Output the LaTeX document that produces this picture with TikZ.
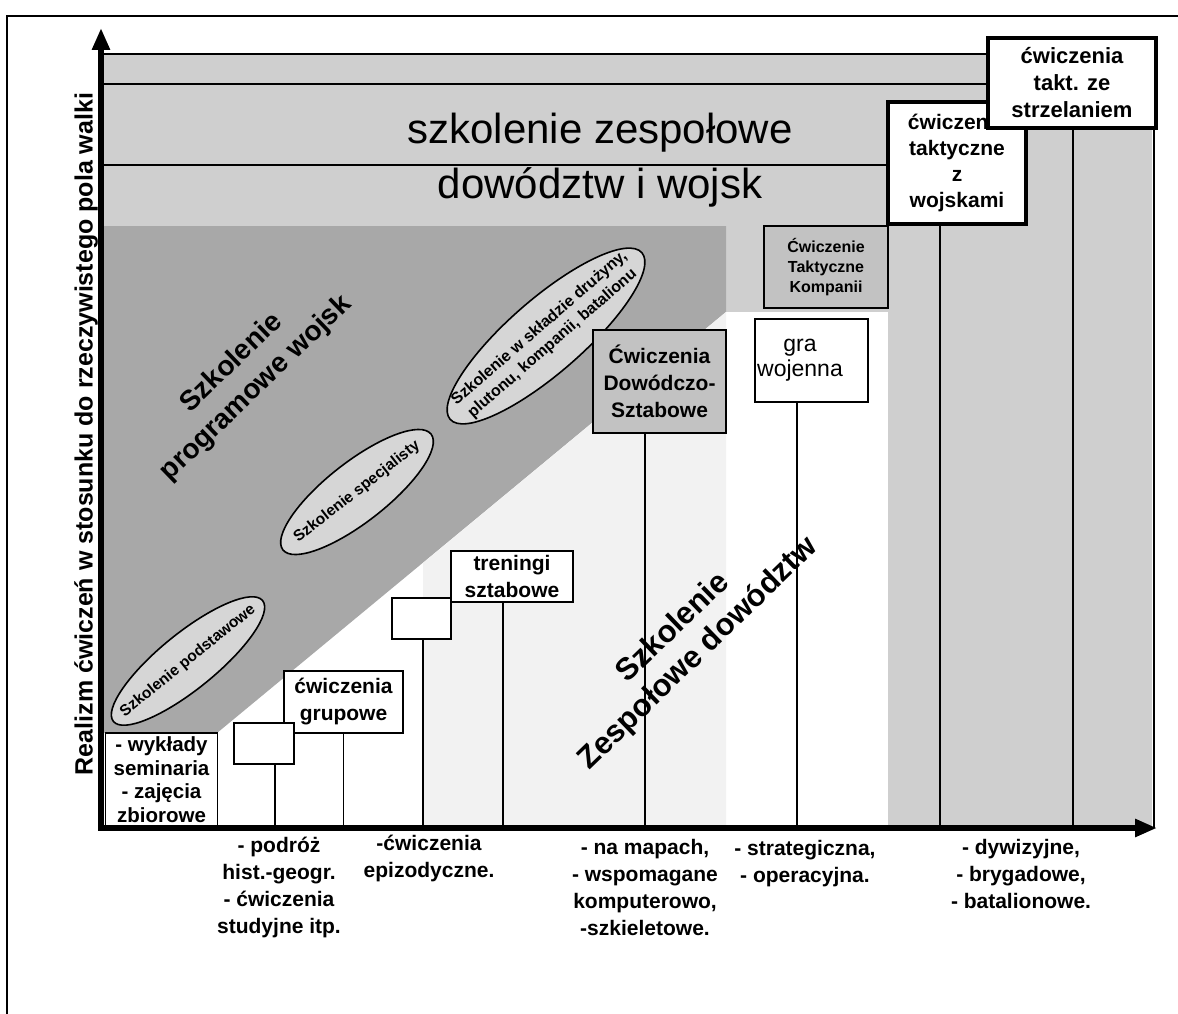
\documentclass[tikz,border=0pt]{standalone}
\usepackage{fontspec}
\setmainfont{Liberation Sans}
\usepackage{tikz}
\usetikzlibrary{arrows.meta,shapes.geometric}
\definecolor{pasek}{gray}{0.81}
\definecolor{ciemny}{gray}{0.66}
\definecolor{jasny}{gray}{0.95}
\definecolor{owalszary}{gray}{0.84}
\definecolor{ramka}{gray}{0.76}

\begin{document}
\begin{tikzpicture}[x=1pt,y=-1pt,inner sep=0pt,
  box/.style={draw,fill=white,line width=1.6pt,align=center,font=\bfseries\fontsize{21}{27}\selectfont},
  gruba/.style={box,line width=4pt},
  owal/.style={ellipse,draw,fill=owalszary,line width=1.6pt},
  napis/.style={font=\bfseries\fontsize{15.5}{19}\selectfont,align=center},
  opis/.style={font=\bfseries\fontsize{21}{27}\selectfont,align=center},
  pion/.style={line width=1.6pt},
  os/.style={line width=6pt,line cap=rect,-{Triangle[length=22pt,width=17pt]}}]
\useasboundingbox (0,0) rectangle (1178,1014);
\fill[pasek] (101,54) rectangle (1152,226);
\fill[pasek] (726,226) rectangle (888,312);
\fill[pasek] (888,226) rectangle (1152,828);
\fill[ciemny] (101,226) -- (726,226) -- (726,312) -- (217,733) -- (101,733) -- cycle;
\fill[jasny] (423,563) -- (726,312) -- (726,828) -- (423,828) -- cycle;
\draw[line width=2.5pt] (101,54) -- (988,54);
\draw[line width=2.5pt] (101,84) -- (988,84);
\draw[line width=2.5pt] (101,165) -- (888,165);
\draw[line width=2pt] (7,1014) -- (7,16) -- (1178,16);
\coordinate (o) at (101,828);
\coordinate (ygora) at (101,28);
\coordinate (xkoniec) at (1157,828);
% napisy w tle
\draw (600,143) node[anchor=base,font=\fontsize{42}{50}\selectfont](zesp1) {szkolenie zespołowe};
\draw (600,198) node[anchor=base,font=\fontsize{42}{50}\selectfont](zesp2) {dowództw i wojsk};
\draw (244,376) node[font=\bfseries\fontsize{28}{35}\selectfont,align=center,rotate=44](progr) {Szkolenie\\programowe wojsk};
\draw (686,641) node[font=\bfseries\fontsize{31}{36}\selectfont,align=center,rotate=44](dowodz) {Szkolenie\\Zespołowe dowództw};
% owale
\draw (188,661) node[owal,minimum width=192,minimum height=56,rotate=39](podst) {};
\draw (podst.center) node[napis,rotate=39](podsttekst) {Szkolenie podstawowe};
\draw (357,492) node[owal,minimum width=188,minimum height=60,rotate=38](spec) {};
\draw (spec.center) node[napis,rotate=38](spectekst) {Szkolenie specjalisty};
\draw (546,336) node[owal,minimum width=254,minimum height=74,rotate=41](sklad) {};
\draw (sklad.center) node[napis,font=\bfseries\fontsize{16}{20}\selectfont,rotate=41](skladtekst) {Szkolenie w składzie drużyny,\\plutonu, kompanii, batalionu};
% prostokaty
\draw (161.5,779.5) node[box,minimum width=112,minimum height=93,font=\bfseries\fontsize{20.5}{23.5}\selectfont](wyklady) {- wykłady\\seminaria\\- zajęcia\\zbiorowe};
\draw (343.5,702) node[box,minimum width=119,minimum height=62](grupowe) {ćwiczenia\\grupowe};
\draw (264,743.5) node[box,minimum width=60,minimum height=41](pusty1) {};
\draw (421.5,618.5) node[box,minimum width=59,minimum height=41](pusty2) {};
\draw (512,576.5) node[box,minimum width=122,minimum height=51](treningi) {treningi\\sztabowe};
\draw (659.5,381.5) node[box,fill=ramka,minimum width=133,minimum height=103](dowodcze) {Ćwiczenia\\Dowódczo-\\Sztabowe};
\draw (811.5,360.5) node[box,minimum width=113,minimum height=83](gra) {};
\draw (800,360.5) node[font=\fontsize{23}{25}\selectfont,align=center](gratekst) {gra\\wojenna};
\draw (826,267) node[box,fill=ramka,minimum width=124,minimum height=82,font=\bfseries\fontsize{16}{20}\selectfont](kompanii) {Ćwiczenie\\Taktyczne\\Kompanii};
\draw (957,163) node[gruba,minimum width=138,minimum height=122,font=\bfseries\fontsize{21}{26}\selectfont](wojskami) {ćwiczenia\\taktyczne\\z\\wojskami};
\draw (1072,83) node[gruba,minimum width=168,minimum height=90,font=\bfseries\fontsize{22}{27}\selectfont](strzelanie) {ćwiczenia\\takt. ze\\strzelaniem};
% linie pionowe
\draw[pion] ([xshift=11pt]pusty1.south) -- ([xshift=11pt]pusty1.south |- o);
\draw[pion] (grupowe.south) -- (grupowe.south |- o);
\draw[pion] ([xshift=1.5pt]pusty2.south) -- ([xshift=1.5pt]pusty2.south |- o);
\draw[pion] ([xshift=-9pt]treningi.south) -- ([xshift=-9pt]treningi.south |- o);
\draw[pion] ([xshift=-14.5pt]dowodcze.south) -- ([xshift=-14.5pt]dowodcze.south |- o);
\draw[pion] ([xshift=-14.5pt]gra.south) -- ([xshift=-14.5pt]gra.south |- o);
\draw[pion] ([xshift=-17pt]wojskami.south) -- ([xshift=-17pt]wojskami.south |- o);
\draw[pion] ([xshift=1pt]strzelanie.south) -- ([xshift=1pt]strzelanie.south |- o);
\draw[pion] ([xshift=-4pt]strzelanie.south east) -- ([xshift=-4pt]strzelanie.south east |- o);
% osie
\draw[os] (o) -- (ygora);
\draw[os] (o) -- (xkoniec);
\draw (86,434) node[font=\bfseries\fontsize{25}{30}\selectfont,rotate=90](realizm) {Realizm ćwiczeń w stosunku do rzeczywistego pola walki};
% opisy pod osia
\draw (279,887.5) node[opis](podroz) {- podróż\\hist.-geogr.\\- ćwiczenia\\studyjne itp.};
\draw (429,858.5) node[opis](epizod) {-ćwiczenia\\epizodyczne.};
\draw (645,887.5) node[opis](mapy) {- na mapach,\\- wspomagane\\komputerowo,\\-szkieletowe.};
\draw (805,863.5) node[opis](strateg) {- strategiczna,\\- operacyjna.};
\draw (1021,874) node[opis](dywiz) {- dywizyjne,\\- brygadowe,\\- batalionowe.};
\end{tikzpicture}
\end{document}
